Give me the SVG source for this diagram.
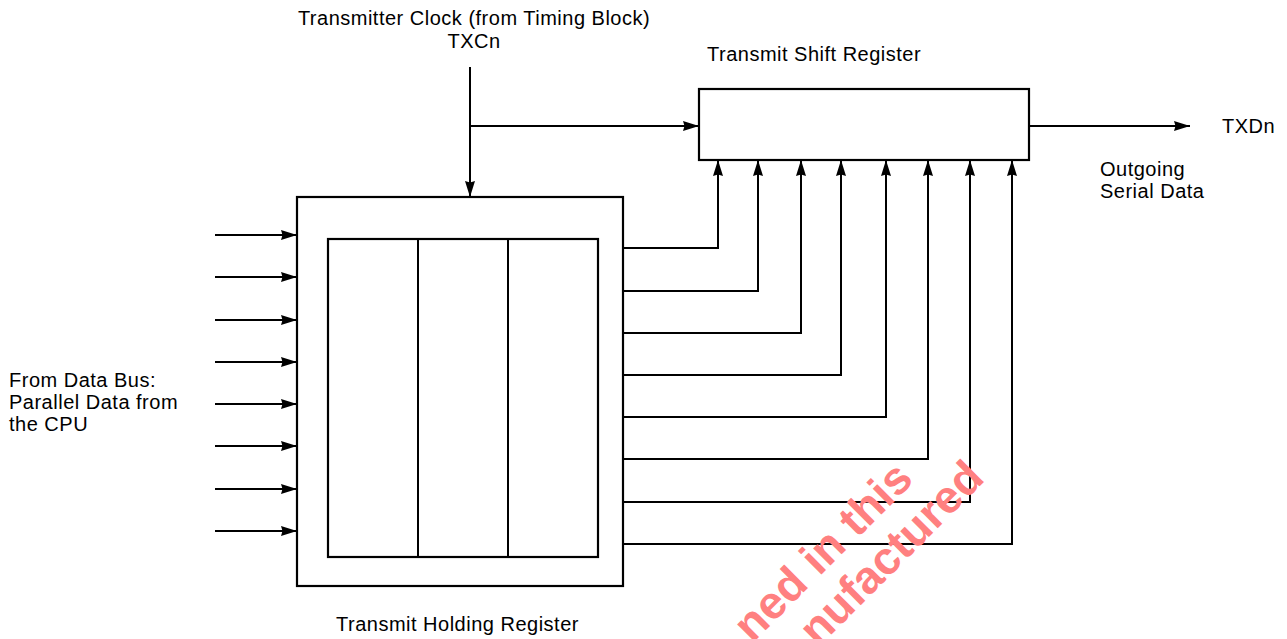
<svg xmlns="http://www.w3.org/2000/svg" width="1287" height="639" viewBox="0 0 1287 639">
<style>
.l{fill:none;stroke:#000;stroke-width:2}
.b{fill:#fff;stroke:#000;stroke-width:2.2}
.t{font-family:"Liberation Sans",Arial,sans-serif;font-size:20px;fill:#000;letter-spacing:0.5px}
.wm{font-family:"Liberation Sans",Arial,sans-serif;font-size:46px;font-weight:bold;fill:#ff8080}
</style>
<defs>
<marker id="ah" markerUnits="userSpaceOnUse" markerWidth="17" markerHeight="11" refX="16" refY="5" orient="auto">
<path d="M0,0 L16,5 L0,10 L1.5,5 Z" fill="#000"/>
</marker>
</defs>
<rect width="1287" height="639" fill="#fff"/>
<g id="labels">
<text class="t" x="474" y="25" text-anchor="middle">Transmitter Clock (from Timing Block)</text>
<text class="t" x="474" y="48" text-anchor="middle">TXCn</text>
<text class="t" x="707" y="61">Transmit Shift Register</text>
<text class="t" x="1222" y="133">TXDn</text>
<text class="t" x="1100" y="176">Outgoing</text>
<text class="t" x="1100" y="198">Serial Data</text>
<text class="t" x="9" y="387">From Data Bus:</text>
<text class="t" x="9" y="409">Parallel Data from</text>
<text class="t" x="9" y="431">the CPU</text>
<text class="t" x="336" y="631">Transmit Holding Register</text>
</g>
<g id="shift-register">
<rect class="b" x="699" y="89" width="330" height="71"/>
</g>
<g id="holding-register">
<rect class="b" x="297" y="197" width="326" height="389"/>
<rect class="b" x="328" y="239" width="270" height="318"/>
<line class="l" x1="418" y1="239" x2="418" y2="557"/>
<line class="l" x1="508" y1="239" x2="508" y2="557"/>
</g>
<g id="connectors">
<path class="l" d="M470,67 V197" marker-end="url(#ah)"/>
<path class="l" d="M470,126 H699" marker-end="url(#ah)"/>
<path class="l" d="M1029,126 H1190" marker-end="url(#ah)"/>
<path class="l" d="M215,235 H297" marker-end="url(#ah)"/>
<path class="l" d="M215,277 H297" marker-end="url(#ah)"/>
<path class="l" d="M215,320 H297" marker-end="url(#ah)"/>
<path class="l" d="M215,362 H297" marker-end="url(#ah)"/>
<path class="l" d="M215,404 H297" marker-end="url(#ah)"/>
<path class="l" d="M215,446 H297" marker-end="url(#ah)"/>
<path class="l" d="M215,489 H297" marker-end="url(#ah)"/>
<path class="l" d="M215,531 H297" marker-end="url(#ah)"/>
<path class="l" d="M623,248 H718 V160" marker-end="url(#ah)"/>
<path class="l" d="M623,291 H758 V160" marker-end="url(#ah)"/>
<path class="l" d="M623,333 H801 V160" marker-end="url(#ah)"/>
<path class="l" d="M623,375 H841 V160" marker-end="url(#ah)"/>
<path class="l" d="M623,417 H886 V160" marker-end="url(#ah)"/>
<path class="l" d="M623,459 H928 V160" marker-end="url(#ah)"/>
<path class="l" d="M623,502 H970 V160" marker-end="url(#ah)"/>
<path class="l" d="M623,544 H1012 V160" marker-end="url(#ah)"/>
</g>
<g id="watermark">
<text class="wm" transform="translate(915,481) rotate(-45)" text-anchor="end">ned in this</text>
<text class="wm" transform="translate(986,480) rotate(-45)" text-anchor="end">nufactured</text>
</g>
</svg>
